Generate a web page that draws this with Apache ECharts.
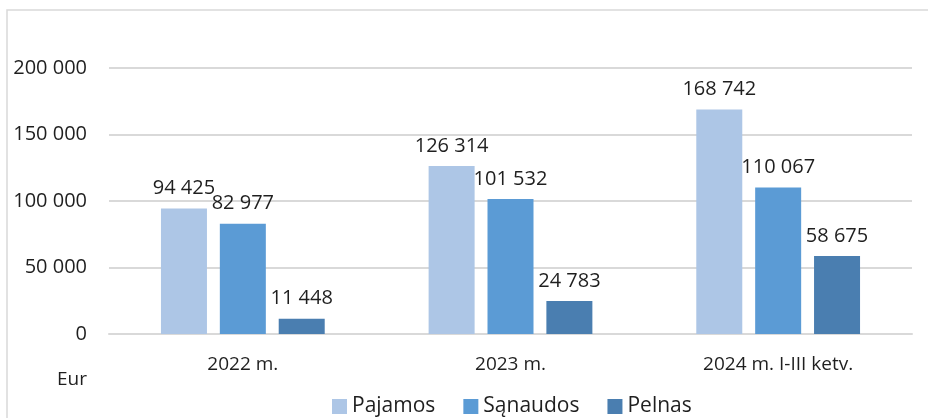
<!DOCTYPE html>
<html>
<head>
<meta charset="utf-8">
<script src="https://cdn.jsdelivr.net/npm/echarts@6/dist/echarts.min.js"></script>
<style>
  html, body { margin: 0; padding: 0; background: #fff; }
  #chart { width: 928px; height: 418px; }
</style>
</head>
<body>
<div id="chart"></div>
<script>
const categories = ['2022 m.', '2023 m.', '2024 m. I-III ketv.'];
const seriesNames = ['Pajamos', 'Sąnaudos', 'Pelnas'];
const pajamos = [94425, 126314, 168742];
const sanaudos = [82977, 101532, 110067];
const pelnas = [11448, 24783, 58675];
const yTicks = [0, 50000, 100000, 150000, 200000];

const COLORS = ['#adc6e6', '#5b9bd5', '#4a7eb0'];
const FONT = '"Open Sans", "Noto Sans", sans-serif';
const TEXT = '#1f1f1f';

function fmt(v) {
    return String(v).replace(/\B(?=(\d{3})+(?!\d))/g, ' ');
}

const chart = echarts.init(document.getElementById('chart'));

const values = [pajamos, sanaudos, pelnas];

chart.setOption({
    animation: false,
    textStyle: { fontFamily: FONT },
    grid: { left: 109, right: 16, top: 68, bottom: 84, containLabel: false },
    legend: {
        data: seriesNames,
        left: 327,
        top: 391,
        itemWidth: 15,
        itemHeight: 15,
        itemGap: 28,
        icon: 'rect',
        textStyle: { fontSize: 21, color: TEXT, fontFamily: FONT },
    },
    graphic: [
        {
            type: 'rect',
            shape: { x: 7, y: 10, width: 940, height: 430 },
            style: { fill: 'none', stroke: '#d9d9d9', lineWidth: 1.5 },
            silent: true,
        },
        {
            type: 'text',
            left: 57,
            top: 370,
            style: { text: 'Eur', fontSize: 19, fill: TEXT, fontFamily: FONT },
        },
    ],
    xAxis: {
        type: 'category',
        data: categories,
        axisLine: { lineStyle: { color: '#d9d9d9', width: 2 } },
        axisTick: { show: false },
        axisLabel: { fontSize: 19, color: TEXT, margin: 21 },
    },
    yAxis: {
        type: 'value',
        min: yTicks[0],
        max: yTicks[yTicks.length - 1],
        interval: 50000,
        axisLine: { show: false },
        axisTick: { show: false },
        splitLine: { lineStyle: { color: '#d9d9d9', width: 2 } },
        axisLabel: { fontSize: 20, color: TEXT, margin: 22, formatter: fmt },
    },
    series: seriesNames.map((name, i) => ({
        name,
        type: 'bar',
        data: values[i],
        barWidth: 46,
        barGap: '28%',
        itemStyle: { color: COLORS[i] },
        label: {
            show: true,
            position: 'top',
            distance: 10,
            fontSize: 20,
            color: TEXT,
            formatter: (p) => fmt(p.value),
        },
    })),
});
</script>
</body>
</html>
